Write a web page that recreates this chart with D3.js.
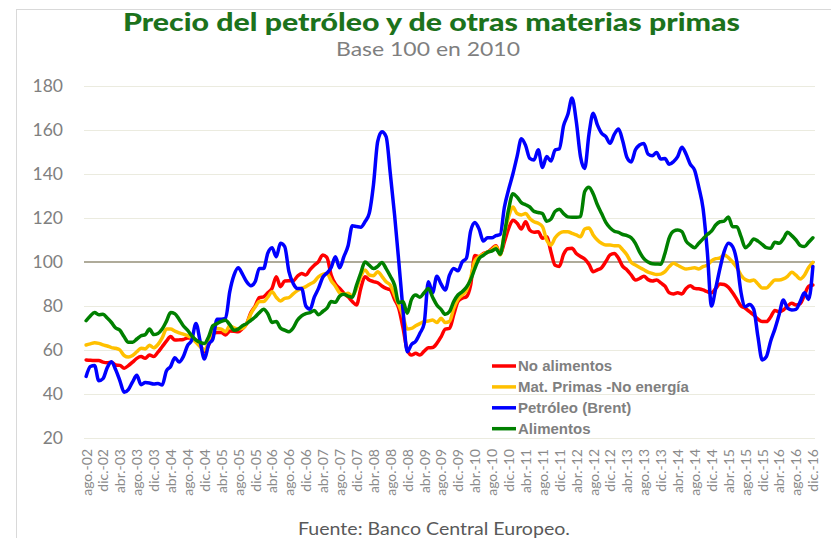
<!DOCTYPE html>
<html><head><meta charset="utf-8">
<script src="https://cdn.jsdelivr.net/npm/d3@7"></script>
<style>body{margin:0;background:#fff;} svg{display:block;}</style>
</head><body>
<svg id="c" width="831" height="538"></svg>
<script>
// Categories: monthly, ago-02 .. dic-16
const monthNames = ["ene.","feb.","mar.","abr.","may.","jun.","jul.","ago.","sep.","oct.","nov.","dic."];
const startYear = 2002, startMonthIdx = 7, nMonths = 173;
const categories = d3.range(nMonths).map(i => {
  const m = (startMonthIdx + i) % 12, y = startYear + Math.floor((startMonthIdx + i) / 12);
  return monthNames[m] + "-" + String(y % 100).padStart(2, "0");
});
const tickLabels = ["ago.-02","dic.-02","abr.-03","ago.-03","dic.-03","abr.-04","ago.-04","dic.-04","abr.-05","ago.-05","dic.-05","abr.-06","ago.-06","dic.-06","abr.-07","ago.-07","dic.-07","abr.-08","ago.-08","dic.-08","abr.-09","ago.-09","dic.-09","abr.-10","ago.-10","dic.-10","abr.-11","ago.-11","dic.-11","abr.-12","ago.-12","dic.-12","abr.-13","ago.-13","dic.-13","abr.-14","ago.-14","dic.-14","abr.-15","ago.-15","dic.-15","abr.-16","ago.-16","dic.-16"];
const yTicks = [20,40,60,80,100,120,140,160,180];

const noAlimentos = [
55.5,55.3,55.2,55.2,54.5,54.2,54.4,53.2,53,51.7,
52.9,54.5,56.2,57,56.2,57.7,57,59,61.5,64,
66.1,64.5,64.6,64.8,65.5,65.5,64.5,62.3,59.2,62.3,
67.6,68,68,66.8,68.6,68.5,68.3,69.8,72,77,
80,83.8,84.2,86,88,93.3,88.8,91.4,91.5,91.4,
93.5,94.8,94.1,96.5,98.5,100.2,103.2,102,94.1,90,
88,85.8,84.2,82,80.5,88,93.3,91.8,91.1,90.6,
89.1,88,87.3,83,78.9,70,60,57.7,58.5,57.7,
59.5,61,61.1,63,66,69.5,69.8,76,82,83.5,
84.2,89.5,103,102.4,103.9,104.5,106,107.4,103.5,109.2,
115.3,119,117.6,115,118.3,114.5,113.5,113.8,110.8,111.5,
104.7,98.5,98,103.5,106,106.2,103.9,102.5,101.4,99,
95.6,96.4,97.4,100.2,103.2,103.9,101.7,98,96.4,94.1,
91.8,92.5,93.5,92,91.4,91.8,90.5,89,86,85.5,
86,85.5,88,89.2,88,87.8,87.3,86.5,86,88,
90,89.8,88.5,86,83,80,79,77.4,75.9,74,
72.9,72.9,75,78,77.4,78.2,80,81.2,80.5,81,
85,89,89.5];
const matPrimasNoEnergia = [
62.3,62.8,63.3,63,62.3,61.8,61.1,60.8,60,57.5,
56.8,57.5,59.2,60.8,60.5,62.2,61,62.5,65.5,69.5,
69.5,68.6,67.8,67.2,66.5,65.5,63.5,61.5,60,63.8,
69.5,69.8,69.5,68.3,71,70,69.5,69.8,72,76.5,
79.5,82,82,84,86.5,84,82.3,83.5,83.8,85.5,
87,88,88.8,90,91.1,93.3,94.4,94.8,91.5,89,
86,85.3,85.8,84.5,88,93.5,96.4,94.1,93.8,95.6,
93.5,91,89.5,85,80.5,75.5,69.5,69.8,71,72,
72.9,73.2,73.6,72.5,74.4,72.5,73,78.9,83,85,
87,92.6,100.5,102.4,103.5,104.5,105.5,107,103.2,113,
120.6,125,122,121.4,122,119.8,118.3,117.6,116.1,110,
107.7,111,113,113.8,113.8,113,112.3,111.5,115,115.5,
112.3,110,108.5,107.7,107.7,107.4,107.4,105.5,103.2,99.8,
98.6,97.5,96.5,95.4,94.8,94.3,94.5,95.6,97.9,99.4,
98.5,97.5,96.8,97.1,97.4,96.8,97.9,98.5,100.5,101.5,
101.8,103.2,102,100,97.5,94,92,91.4,91.8,90,
88.2,88.2,90,91.8,91.8,92.3,93.5,95.3,94,92.3,
94,97.5,99.8];
const petroleoBrent = [
48,52.5,53,46,47,52,54.7,51,46,40.8,
42,45.5,48.5,44.2,45.2,45,44.5,44.8,44.1,50.5,
52.5,56.5,54.5,57,62,64.5,72.1,63.8,55.9,62.5,
65,74,74,74.4,86.5,94,97.4,94.5,91,89.2,
91,97.1,97,104,106.5,102.4,108.5,107,95.6,90.3,
88,88,80,78.5,84,88,93,95,97.5,102.4,
97.4,102.4,107.4,116.5,116.1,115.8,118.3,122.1,135,154.7,
159.2,157,140,121.4,100.2,78,59.2,62.5,64,67.6,
72,91,86,93.5,90,87.3,94,97.1,96,100,
101.7,114,118,115,109.5,111,111,112,112.5,125,
133,140,148,156,153,147.1,146.4,151,143,147.9,
145.9,150.9,151.5,162,167,174.5,164,147.9,142.5,158,
167.6,162.3,158.5,157,154,158,160.5,155,147.5,145.5,
151,153.2,153.9,149,148.3,149.8,146.8,147,144.4,145.6,
147.9,152.2,149,144.4,141.8,134,124.4,105,80,88,
97,104.7,108.5,107,100.2,86,79.7,80.7,78.5,66,
55.5,57,64,69.5,76,82.7,79,78.2,78.5,82,
86,83,98];
const alimentos = [
73.3,75.5,77,76,76.2,74.5,72.5,70,69,66,
63.5,63.5,65,66.5,67,69.5,67,67.5,69.5,73,
77,76.5,74,71,69,66.5,64.5,63.5,63,66,
71,72,73,73.5,71.5,69,69.5,71,72,73.5,
75,77,78.5,76.5,72.5,73,70,69,68.3,70,
73.5,75.5,76.5,77,78,76,77.5,79,82,81.7,
84.5,85.3,84.5,84,89.5,95,100,98.6,97,98,
99.8,97,93.5,89.5,81.5,82,76.7,83,85,84,
86,88,84,80.5,78.5,76.2,77.5,82,85,86.5,
88.5,92,97,101.5,103,104.5,105,106,103.5,113,
124,131,129.5,127,126,125,123,122.5,122,118.5,
119.5,123,124,122,120.5,120.3,120.3,120.6,132,134,
131,126,122,118,115.5,114,113.5,112.5,112,111,
108.5,104.5,101.5,100,99.2,99.1,99,104,111,114,
114.5,113.8,109.5,107.7,106.5,108.5,110.5,112.5,114,116.8,
118.3,118.6,120.5,116,116,111.5,106.5,108,110.5,109.5,
108,106.5,106.2,109,108.5,110.5,113.5,112,110,107.5,
107,109,111];

const seriesNames = ["No alimentos","Mat. Primas -No energía","Petróleo (Brent)","Alimentos"];
const seriesColors = ["#ff0000","#ffc000","#0000ff","#008000"];
const seriesData = [noAlimentos, matPrimasNoEnergia, petroleoBrent, alimentos];

const svg = d3.select("#c");
// outer frame
svg.append("rect").attr("x",16.5).attr("y",9.5).attr("width",900).attr("height",600)
  .attr("fill","none").attr("stroke","#d9d9d9").attr("stroke-width",1);

const x = d3.scalePoint().domain(categories).range([84,815]).padding(0.5);
const y = d3.scaleLinear().domain([20,180]).range([438,86]);

// gridlines
svg.append("g").selectAll("line").data(yTicks.filter(v=>v!==100)).join("line")
  .attr("x1",84).attr("x2",815).attr("y1",d=>y(d)+0.5).attr("y2",d=>y(d)+0.5)
  .attr("stroke","#ebebdf").attr("stroke-width",1);

// y axis labels
const yAxis = svg.append("g").attr("transform","translate(84,0)")
  .call(d3.axisLeft(y).tickValues(yTicks).tickSize(0).tickPadding(21));
yAxis.select(".domain").remove();
yAxis.selectAll("text").attr("fill","#808080").style("font-family","Lato, 'Open Sans', sans-serif").style("font-size","17.5px");

// x axis labels
const xAxis = svg.append("g").attr("transform","translate(0,438)")
  .call(d3.axisBottom(x).tickValues(tickLabels).tickSize(0));
xAxis.select(".domain").remove();
xAxis.selectAll("text")
  .attr("transform","rotate(-90)").attr("x",-11).attr("y",0).attr("dy","0.35em")
  .attr("text-anchor","end").attr("fill","#8a8a8a")
  .style("font-family","Lato, 'Open Sans', sans-serif").style("font-size","14px");

// reference line at 100
svg.append("line").attr("x1",84).attr("x2",815).attr("y1",y(100)).attr("y2",y(100))
  .attr("stroke","#948f78").attr("stroke-width",1.5);

// series lines
const line = d3.line().x((d,i)=>x(categories[i])).y(d=>y(d)).curve(d3.curveMonotoneX);
svg.append("g").selectAll("path").data(seriesData).join("path")
  .attr("d",d=>line(d)).attr("fill","none")
  .attr("stroke",(d,i)=>seriesColors[i]).attr("stroke-width",3.5)
  .attr("stroke-linejoin","round").attr("stroke-linecap","round");

// legend
const lg = svg.append("g").selectAll("g").data(seriesNames).join("g")
  .attr("transform",(d,i)=>`translate(492,${366+i*20.9})`);
lg.append("line").attr("x1",0).attr("x2",24).attr("y1",0).attr("y2",0)
  .attr("stroke",(d,i)=>seriesColors[i]).attr("stroke-width",3.5);
lg.append("text").attr("x",26).attr("dy","0.36em").text(d=>d)
  .attr("fill","#7f7f7f").style("font-family","'Liberation Sans', Arial, sans-serif")
  .style("font-weight","bold").style("font-size","15px");

// titles
svg.append("text").attr("x",431.5).attr("y",31).attr("text-anchor","middle")
  .attr("textLength",617).attr("lengthAdjust","spacingAndGlyphs")
  .attr("fill","#1c721c").style("font-family","Lato, sans-serif").style("font-weight","900").style("font-size","25px")
  .text("Precio del petróleo y de otras materias primas");
svg.append("text").attr("x",428).attr("y",56).attr("text-anchor","middle")
  .attr("textLength",184).attr("lengthAdjust","spacingAndGlyphs")
  .attr("fill","#7f7f7f").style("font-family","Lato, sans-serif").style("font-size","20px")
  .text("Base 100 en 2010");
svg.append("text").attr("x",298).attr("y",535)
  .attr("textLength",272).attr("lengthAdjust","spacingAndGlyphs")
  .attr("fill","#595959").style("font-family","Lato, sans-serif").style("font-size","17px")
  .text("Fuente: Banco Central Europeo.");
</script>
</body></html>
